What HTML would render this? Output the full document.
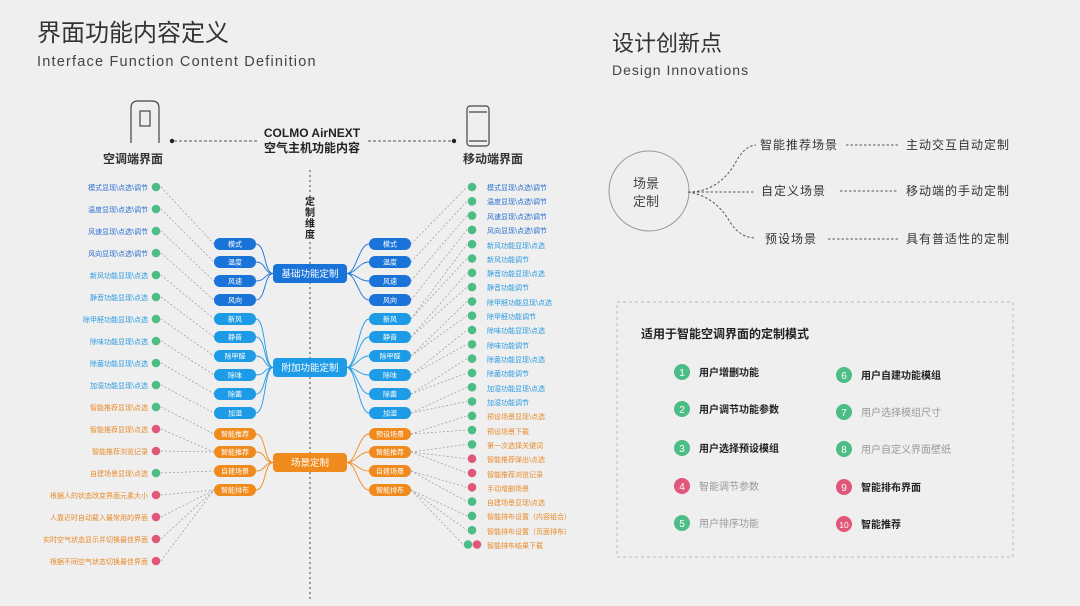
<!DOCTYPE html>
<html><head><meta charset="utf-8"><style>
html,body{margin:0;padding:0;background:#efefef;}
svg{display:block;font-family:"Liberation Sans","Noto Sans CJK SC",sans-serif;}
</style></head><body>
<svg id="s" width="1080" height="606" viewBox="0 0 1080 606" xmlns="http://www.w3.org/2000/svg">
<rect width="1080" height="606" fill="#efefef"/>
<text x="37" y="41" font-size="24" fill="#333">界面功能内容定义</text>
<text x="37" y="66" font-size="14.5" fill="#444" letter-spacing="1.2">Interface Function Content Definition</text>
<text x="612" y="51" font-size="22" fill="#333">设计创新点</text>
<text x="612" y="75" font-size="14" fill="#444" letter-spacing="1">Design Innovations</text>

<!-- devices -->
<g fill="none" stroke="#444" stroke-width="1.2">
<path d="M131 143 V108 Q131 101 138 101 H152 Q159 101 159 108 V143"/>
<rect x="140" y="111" width="10" height="15"/>
<rect x="467" y="106" width="22" height="40" rx="3"/>
<line x1="469" y1="112" x2="487" y2="112"/><line x1="469" y1="141" x2="487" y2="141"/>
</g>
<text x="133" y="163" font-size="12" font-weight="bold" fill="#333" text-anchor="middle">空调端界面</text>
<text x="493" y="163" font-size="12" font-weight="bold" fill="#333" text-anchor="middle">移动端界面</text>
<circle cx="172" cy="141" r="2.2" fill="#222"/><circle cx="454" cy="141" r="2.2" fill="#222"/>
<line x1="174" y1="141" x2="258" y2="141" stroke="#555" stroke-dasharray="3,2"/>
<line x1="368" y1="141" x2="452" y2="141" stroke="#555" stroke-dasharray="3,2"/>
<text x="312" y="137" font-size="12" font-weight="bold" fill="#222" text-anchor="middle">COLMO AirNEXT</text>
<text x="312" y="152" font-size="12" font-weight="bold" fill="#222" text-anchor="middle">空气主机功能内容</text>
<line x1="310" y1="170" x2="310" y2="196" stroke="#444" stroke-dasharray="2,3"/>
<line x1="310" y1="242" x2="310" y2="600" stroke="#444" stroke-dasharray="2,3"/>
<g font-size="10" font-weight="bold" fill="#222" text-anchor="middle">
<text x="310" y="205">定</text><text x="310" y="216">制</text><text x="310" y="227">维</text><text x="310" y="238">度</text>
</g>
<g id="lines"></g>

<!-- center boxes -->
<rect x="273" y="264" width="74" height="19" rx="4" fill="#1a73d9"/>
<text x="310" y="277" font-size="9.5" fill="#fff" text-anchor="middle">基础功能定制</text>
<rect x="273" y="358" width="74" height="19" rx="4" fill="#1e9be6"/>
<text x="310" y="371" font-size="9.5" fill="#fff" text-anchor="middle">附加功能定制</text>
<rect x="273" y="453" width="74" height="19" rx="4" fill="#f08a1c"/>
<text x="310" y="466" font-size="9.5" fill="#fff" text-anchor="middle">场景定制</text>

<!-- left chips -->
<g font-size="7" fill="#fff" text-anchor="middle">
<rect x="214" y="238" width="42" height="12" rx="6" fill="#1a73d9"/><text x="235" y="246.5">模式</text>
<rect x="214" y="256" width="42" height="12" rx="6" fill="#1a73d9"/><text x="235" y="264.5">温度</text>
<rect x="214" y="275" width="42" height="12" rx="6" fill="#1a73d9"/><text x="235" y="283.5">风速</text>
<rect x="214" y="294" width="42" height="12" rx="6" fill="#1a73d9"/><text x="235" y="302.5">风向</text>
<rect x="214" y="313" width="42" height="12" rx="6" fill="#1e9be6"/><text x="235" y="321.5">新风</text>
<rect x="214" y="331" width="42" height="12" rx="6" fill="#1e9be6"/><text x="235" y="339.5">静音</text>
<rect x="214" y="350" width="42" height="12" rx="6" fill="#1e9be6"/><text x="235" y="358.5">除甲醛</text>
<rect x="214" y="369" width="42" height="12" rx="6" fill="#1e9be6"/><text x="235" y="377.5">除味</text>
<rect x="214" y="388" width="42" height="12" rx="6" fill="#1e9be6"/><text x="235" y="396.5">除菌</text>
<rect x="214" y="407" width="42" height="12" rx="6" fill="#1e9be6"/><text x="235" y="415.5">加湿</text>
<rect x="214" y="428" width="42" height="12" rx="6" fill="#f08a1c"/><text x="235" y="436.5">智能推荐</text>
<rect x="214" y="446" width="42" height="12" rx="6" fill="#f08a1c"/><text x="235" y="454.5">智能推荐</text>
<rect x="214" y="465" width="42" height="12" rx="6" fill="#f08a1c"/><text x="235" y="473.5">自建场景</text>
<rect x="214" y="484" width="42" height="12" rx="6" fill="#f08a1c"/><text x="235" y="492.5">智能排布</text>
<!-- right chips -->
<rect x="369" y="238" width="42" height="12" rx="6" fill="#1a73d9"/><text x="390" y="246.5">模式</text>
<rect x="369" y="256" width="42" height="12" rx="6" fill="#1a73d9"/><text x="390" y="264.5">温度</text>
<rect x="369" y="275" width="42" height="12" rx="6" fill="#1a73d9"/><text x="390" y="283.5">风速</text>
<rect x="369" y="294" width="42" height="12" rx="6" fill="#1a73d9"/><text x="390" y="302.5">风向</text>
<rect x="369" y="313" width="42" height="12" rx="6" fill="#1e9be6"/><text x="390" y="321.5">新风</text>
<rect x="369" y="331" width="42" height="12" rx="6" fill="#1e9be6"/><text x="390" y="339.5">静音</text>
<rect x="369" y="350" width="42" height="12" rx="6" fill="#1e9be6"/><text x="390" y="358.5">除甲醛</text>
<rect x="369" y="369" width="42" height="12" rx="6" fill="#1e9be6"/><text x="390" y="377.5">除味</text>
<rect x="369" y="388" width="42" height="12" rx="6" fill="#1e9be6"/><text x="390" y="396.5">除菌</text>
<rect x="369" y="407" width="42" height="12" rx="6" fill="#1e9be6"/><text x="390" y="415.5">加湿</text>
<rect x="369" y="428" width="42" height="12" rx="6" fill="#f08a1c"/><text x="390" y="436.5">预设场景</text>
<rect x="369" y="446" width="42" height="12" rx="6" fill="#f08a1c"/><text x="390" y="454.5">智能推荐</text>
<rect x="369" y="465" width="42" height="12" rx="6" fill="#f08a1c"/><text x="390" y="473.5">自建场景</text>
<rect x="369" y="484" width="42" height="12" rx="6" fill="#f08a1c"/><text x="390" y="492.5">智能排布</text>
</g>

<!-- left list -->
<g font-size="7" text-anchor="end">
<text x="148" y="190" fill="#2a6fd0">模式显现\点选\调节</text>
<text x="148" y="212" fill="#2a6fd0">温度显现\点选\调节</text>
<text x="148" y="234" fill="#2a6fd0">风速显现\点选\调节</text>
<text x="148" y="256" fill="#2a6fd0">风向显现\点选\调节</text>
<text x="148" y="278" fill="#2a9ae0">新风功能显现\点选</text>
<text x="148" y="300" fill="#2a9ae0">静音功能显现\点选</text>
<text x="148" y="322" fill="#2a9ae0">除甲醛功能显现\点选</text>
<text x="148" y="344" fill="#2a9ae0">除味功能显现\点选</text>
<text x="148" y="366" fill="#2a9ae0">除菌功能显现\点选</text>
<text x="148" y="388" fill="#2a9ae0">加湿功能显现\点选</text>
<text x="148" y="410" fill="#e88a2a">智能推荐显现\点选</text>
<text x="148" y="432" fill="#e88a2a">智能推荐显现\点选</text>
<text x="148" y="454" fill="#e88a2a">智能推荐浏览记录</text>
<text x="148" y="476" fill="#e88a2a">自建场景显现\点选</text>
<text x="148" y="498" fill="#e88a2a">根据人的状态改变界面元素大小</text>
<text x="148" y="520" fill="#e88a2a">人靠近时自动载入最常用的界面</text>
<text x="148" y="542" fill="#e88a2a">实时空气状态显示并切换最佳界面</text>
<text x="148" y="564" fill="#e88a2a">根据不同空气状态切换最佳界面</text>
</g>
<!-- right list -->
<g font-size="7">
<text x="487" y="190" fill="#2a6fd0">模式显现\点选\调节</text>
<text x="487" y="204" fill="#2a6fd0">温度显现\点选\调节</text>
<text x="487" y="219" fill="#2a6fd0">风速显现\点选\调节</text>
<text x="487" y="233" fill="#2a6fd0">风向显现\点选\调节</text>
<text x="487" y="248" fill="#2a9ae0">新风功能显现\点选</text>
<text x="487" y="262" fill="#2a9ae0">新风功能调节</text>
<text x="487" y="276" fill="#2a9ae0">静音功能显现\点选</text>
<text x="487" y="290" fill="#2a9ae0">静音功能调节</text>
<text x="487" y="305" fill="#2a9ae0">除甲醛功能显现\点选</text>
<text x="487" y="319" fill="#2a9ae0">除甲醛功能调节</text>
<text x="487" y="333" fill="#2a9ae0">除味功能显现\点选</text>
<text x="487" y="348" fill="#2a9ae0">除味功能调节</text>
<text x="487" y="362" fill="#2a9ae0">除菌功能显现\点选</text>
<text x="487" y="376" fill="#2a9ae0">除菌功能调节</text>
<text x="487" y="391" fill="#2a9ae0">加湿功能显现\点选</text>
<text x="487" y="405" fill="#2a9ae0">加湿功能调节</text>
<text x="487" y="419" fill="#e88a2a">预设场景显现\点选</text>
<text x="487" y="434" fill="#e88a2a">预设场景下载</text>
<text x="487" y="448" fill="#e88a2a">第一次选择关键词</text>
<text x="487" y="462" fill="#e88a2a">智能推荐弹出\点选</text>
<text x="487" y="477" fill="#e88a2a">智能推荐浏览记录</text>
<text x="487" y="491" fill="#e88a2a">手动增删场景</text>
<text x="487" y="505" fill="#e88a2a">自建场景显现\点选</text>
<text x="487" y="519" fill="#e88a2a">智能排布设置（内容组合）</text>
<text x="487" y="534" fill="#e88a2a">智能排布设置（页面排布）</text>
<text x="487" y="548" fill="#e88a2a">智能排布结果下载</text>
</g>
<g id="circles"></g>

<!-- design innovations -->
<circle cx="649" cy="191" r="40" fill="none" stroke="#999" stroke-width="1"/>
<text x="646" y="188" font-size="13" fill="#444" text-anchor="middle">场景</text>
<text x="646" y="206" font-size="13" fill="#444" text-anchor="middle">定制</text>
<g fill="none" stroke="#555" stroke-dasharray="2.5,2">
<path d="M688 192 Q720 192 737 160 Q745 146 756 145"/>
<path d="M688 192 H755"/>
<path d="M688 192 Q715 196 730 222 Q740 238 756 238"/>
<line x1="846" y1="145" x2="898" y2="145"/>
<line x1="840" y1="191" x2="898" y2="191"/>
<line x1="828" y1="239" x2="898" y2="239"/>
</g>
<g font-size="12" fill="#333" letter-spacing="1">
<text x="760" y="149">智能推荐场景</text>
<text x="761" y="195">自定义场景</text>
<text x="765" y="243">预设场景</text>
<text x="906" y="149">主动交互自动定制</text>
<text x="906" y="195">移动端的手动定制</text>
<text x="906" y="243">具有普适性的定制</text>
</g>

<rect x="617" y="302" width="396" height="255" fill="none" stroke="#bbb" stroke-dasharray="3,3"/>
<text x="641" y="338" font-size="12" font-weight="bold" fill="#222">适用于智能空调界面的定制模式</text>
<g font-size="10" text-anchor="middle" fill="#fff">
<circle cx="682" cy="372" r="8" fill="#4cbd84"/><text x="682" y="376">1</text>
<circle cx="682" cy="409" r="8" fill="#4cbd84"/><text x="682" y="413">2</text>
<circle cx="682" cy="448" r="8" fill="#4cbd84"/><text x="682" y="452">3</text>
<circle cx="682" cy="486" r="8" fill="#e0577a"/><text x="682" y="490">4</text>
<circle cx="682" cy="523" r="8" fill="#4cbd84"/><text x="682" y="527">5</text>
<circle cx="844" cy="375" r="8" fill="#4cbd84"/><text x="844" y="379">6</text>
<circle cx="844" cy="412" r="8" fill="#4cbd84"/><text x="844" y="416">7</text>
<circle cx="844" cy="449" r="8" fill="#4cbd84"/><text x="844" y="453">8</text>
<circle cx="844" cy="487" r="8" fill="#e0577a"/><text x="844" y="491">9</text>
<circle cx="844" cy="524" r="8" fill="#e0577a"/><text x="844" y="528" font-size="8.5">10</text>
</g>
<g font-size="10">
<text x="699" y="376" fill="#222" font-weight="bold">用户增删功能</text>
<text x="699" y="413" fill="#222" font-weight="bold">用户调节功能参数</text>
<text x="699" y="452" fill="#222" font-weight="bold">用户选择预设模组</text>
<text x="699" y="490" fill="#999">智能调节参数</text>
<text x="699" y="527" fill="#999">用户排序功能</text>
<text x="861" y="379" fill="#222" font-weight="bold">用户自建功能模组</text>
<text x="861" y="416" fill="#999">用户选择模组尺寸</text>
<text x="861" y="453" fill="#999">用户自定义界面壁纸</text>
<text x="861" y="491" fill="#222" font-weight="bold">智能排布界面</text>
<text x="861" y="528" fill="#222" font-weight="bold">智能推荐</text>
</g>
</svg>
<script>
(function(){
var NS="http://www.w3.org/2000/svg";
var L=document.getElementById('lines'),C=document.getElementById('circles');
var chipY=[244,262,281,300,319,337,356,375,394,413,434,452,471,490];
function col(i){return i<4?'#1a73d9':(i<10?'#1e9be6':'#f08a1c');}
function p(d,st,dash,w){var e=document.createElementNS(NS,'path');e.setAttribute('d',d);e.setAttribute('fill','none');e.setAttribute('stroke',st);e.setAttribute('stroke-width',w||0.8);if(dash)e.setAttribute('stroke-dasharray',dash);L.appendChild(e);}
function c(x,y,f){var e=document.createElementNS(NS,'circle');e.setAttribute('cx',x);e.setAttribute('cy',y);e.setAttribute('r',4.3);e.setAttribute('fill',f);C.appendChild(e);}
var boxY=[273.5,367.5,462.5];
chipY.forEach(function(y,i){var b=boxY[i<4?0:(i<10?1:2)];
p('M256 '+y+' C266 '+y+' 264 '+b+' 273 '+b,col(i),null,0.9);
p('M369 '+y+' C359 '+y+' 356 '+b+' 347 '+b,col(i),null,0.9);});
var lm=[0,1,2,3,4,5,6,7,8,9,10,11,11,12,13,13,13,13];
var lc=['g','g','g','g','g','g','g','g','g','g','g','p','p','g','p','p','p','p'];
lm.forEach(function(k,i){var y=187+i*22;c(156,y,lc[i]=='g'?'#4cbd84':'#e0577a');
p('M161 '+y+' L214 '+chipY[k],'#999','2,2',0.7);});
var rm=[0,1,2,3,4,4,5,5,6,6,7,7,8,8,9,9,10,10,11,11,11,12,12,13,13,13];
var rc='gggggggggggggggggggpppgggddd';
rm.forEach(function(k,i){var y=187+i*14.3;var t=rc[i];
if(t=='d'){c(468,y,'#4cbd84');c(477,y,'#e0577a');}else c(472,y,t=='g'?'#4cbd84':'#e0577a');
p('M411 '+chipY[k]+' L'+(t=='d'?463:467)+' '+y,'#999','2,2',0.7);});
})();
</script>
</body></html>
